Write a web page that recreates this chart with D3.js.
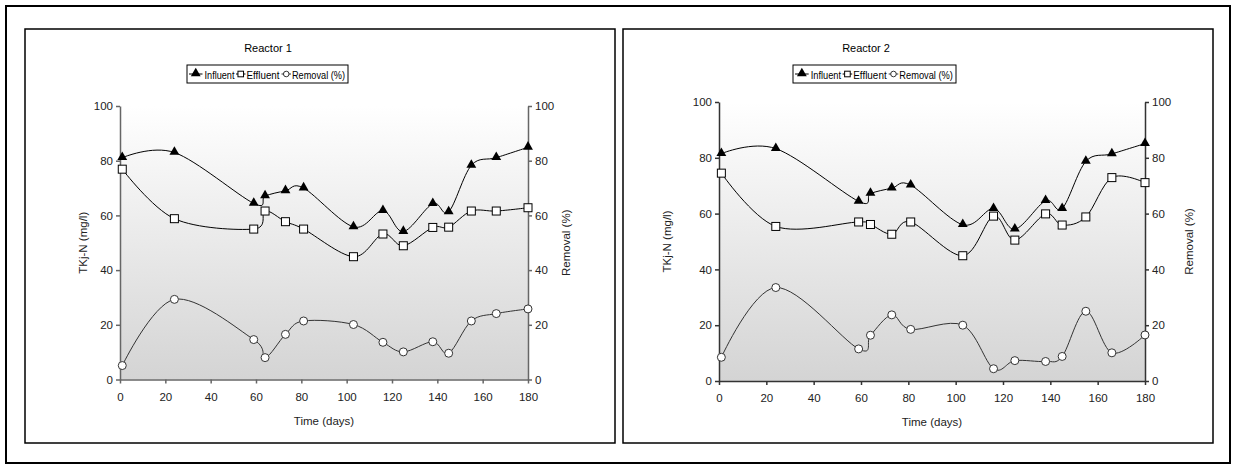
<!DOCTYPE html>
<html><head><meta charset="utf-8">
<script src="https://cdn.jsdelivr.net/npm/d3@7"></script>
<style>body{margin:0;background:#fff}svg{display:block;font-family:"Liberation Sans",Arial,sans-serif}</style>
</head><body>
<svg id="c" width="1236" height="469"></svg>
<script>
const days = [1, 24, 59, 64, 73, 81, 103, 116, 125, 138, 145, 155, 166, 180];
const xTicks = [0, 20, 40, 60, 80, 100, 120, 140, 160, 180];
const yTicks = [0, 20, 40, 60, 80, 100];
const r1Influent = [81.1, 83.0, 64.4, 67.1, 69.0, 70.0, 55.8, 61.7, 54.1, 64.3, 61.3, 78.3, 81.1, 84.9];
const r1Effluent = [76.9, 58.8, 55.0, 61.6, 57.7, 55.0, 44.9, 53.2, 48.9, 55.6, 55.7, 61.6, 61.6, 62.8];
const r1Removal = [5.1, 29.3, 14.6, 8.0, 16.5, 21.4, 20.1, 13.6, 10.1, 13.8, 9.6, 21.4, 24.1, 25.8];
const r2Influent = [81.5, 83.3, 64.4, 67.2, 69.1, 70.2, 56.0, 61.8, 54.4, 64.6, 61.8, 78.7, 81.4, 85.1];
const r2Effluent = [74.5, 55.4, 57.0, 56.1, 52.6, 57.0, 44.9, 59.1, 50.5, 59.9, 55.9, 58.8, 72.9, 71.1];
const r2Removal = [8.5, 33.5, 11.5, 16.4, 23.7, 18.5, 20.0, 4.4, 7.3, 7.0, 8.8, 25.0, 10.1, 16.5];
const seriesNames = ["Influent", "Effluent", "Removal (%)"];

const svg = d3.select("#c");
svg.append("rect").attr("x",6).attr("y",6).attr("width",1224).attr("height",457)
  .attr("fill","none").attr("stroke","#000").attr("stroke-width",2);

const defs = svg.append("defs");
const grad = defs.append("linearGradient").attr("id","bg").attr("x1",0).attr("y1",0).attr("x2",0).attr("y2",1);
grad.append("stop").attr("offset","0%").attr("stop-color","#ffffff");
grad.append("stop").attr("offset","100%").attr("stop-color","#d4d4d4");

function panel(cfg){
  const g = svg.append("g");
  g.append("rect").attr("x",cfg.fx).attr("y",29).attr("width",cfg.fw).attr("height",414)
    .attr("fill","#fff").attr("stroke","#000").attr("stroke-width",1.5);
  const x = d3.scaleLinear().domain([0,180]).range([cfg.x0,cfg.x1]);
  const y = d3.scaleLinear().domain([0,100]).range([cfg.y0,cfg.y1]);
  g.append("rect").attr("x",cfg.x0).attr("y",cfg.y1).attr("width",cfg.x1-cfg.x0).attr("height",cfg.y0-cfg.y1)
    .attr("fill","url(#bg)");
  const fs = "11.5px";
  const styleAxis = a => { a.selectAll("path,line").attr("stroke",cfg.axc).attr("stroke-width",1.5);
    a.selectAll("text").attr("fill","#222").style("font-size",fs).style("font-family","Liberation Sans, Arial"); };
  g.append("g").attr("transform",`translate(0,${cfg.y0})`)
    .call(d3.axisBottom(x).tickValues(xTicks).tickSize(4).tickSizeOuter(0).tickPadding(9)).call(styleAxis);
  g.append("g").attr("transform",`translate(${cfg.x0},0)`)
    .call(d3.axisLeft(y).tickValues(yTicks).tickSize(4).tickSizeOuter(0).tickPadding(3)).call(styleAxis);
  g.append("g").attr("transform",`translate(${cfg.x1},0)`)
    .call(d3.axisRight(y).tickValues(yTicks).tickSize(4).tickSizeOuter(0).tickPadding(3)).call(styleAxis);
  g.append("text").attr("x",(cfg.x0+cfg.x1)/2).attr("y",cfg.y0+45).attr("text-anchor","middle")
    .style("font-size","11.5px").attr("fill","#222").text("Time (days)");
  g.append("text").attr("transform",`translate(${cfg.ly},${(cfg.y0+cfg.y1)/2}) rotate(-90)`).attr("text-anchor","middle")
    .style("font-size","11.5px").attr("fill","#222").text("TKj-N (mg/l)");
  g.append("text").attr("transform",`translate(${cfg.ry},${(cfg.y0+cfg.y1)/2}) rotate(-90)`).attr("text-anchor","middle")
    .style("font-size","11.5px").attr("fill","#222").text("Removal (%)");
  g.append("text").attr("x",cfg.tc).attr("y",52).attr("text-anchor","middle")
    .style("font-size","11px").attr("fill","#000").text(cfg.title);

  const line = d3.line().x((d,i)=>x(days[i])).y(d=>y(d)).curve(d3.curveCardinal.tension(0));
  const series = [
    {vals:cfg.inf, stroke:"#000", type:"tri"},
    {vals:cfg.eff, stroke:"#000", type:"sq"},
    {vals:cfg.rem, stroke:"#333", type:"circ"}
  ];
  function marker(sel, type, stroke, sc){
    if(type==="tri") sel.append("path").attr("d",d3.symbol().type(d3.symbolTriangle).size(42*sc*sc)()).attr("fill","#000").attr("transform","translate(0,-0.5)");
    else if(type==="sq") sel.append("rect").attr("x",-4*sc).attr("y",-4*sc).attr("width",8*sc).attr("height",8*sc)
      .attr("fill","#fff").attr("stroke","#000").attr("stroke-width",1);
    else sel.append("circle").attr("r",4*sc).attr("fill","#fff").attr("stroke",stroke).attr("stroke-width",1);
  }
  series.forEach(s=>{
    g.append("path").attr("d",line(s.vals)).attr("fill","none").attr("stroke",s.stroke).attr("stroke-width",1);
    s.vals.forEach((v,i)=>{
      const m = g.append("g").attr("transform",`translate(${x(days[i])},${y(v)})`);
      marker(m, s.type, s.stroke, 1);
    });
  });
  // legend
  const k = cfg.lgw/161;
  const lg = g.append("g").attr("transform",`translate(${cfg.lgx},65)`);
  lg.append("rect").attr("x",0).attr("y",0).attr("width",cfg.lgw).attr("height",18)
    .attr("fill","#fff").attr("stroke","#000").attr("stroke-width",1);
  const items = [
    {l0:2, l1:15.5, t0:17.5, tw:30},
    {l0:49, l1:58.5, t0:59.5, tw:33},
    {l0:94.5, l1:104, t0:105, tw:53}
  ];
  series.forEach((s,i)=>{
    const it = items[i];
    lg.append("line").attr("x1",it.l0*k).attr("x2",it.l1*k).attr("y1",9).attr("y2",9).attr("stroke",s.stroke);
    const m = lg.append("g").attr("transform",`translate(${(it.l0+it.l1)/2*k},9)`);
    marker(m, s.type, s.stroke, s.type==="tri" ? 1 : 0.7);
    lg.append("text").attr("x",it.t0*k).attr("y",13.5).style("font-size","11px").attr("fill","#000")
      .attr("textLength",it.tw*k).attr("lengthAdjust","spacingAndGlyphs").text(seriesNames[i]);
  });
}

panel({fx:25, fw:590, x0:120, x1:528, y0:379.5, y1:106, ly:87, ry:570, tc:268, lgx:187, lgw:161, axc:"#666",
  title:"Reactor 1", inf:r1Influent, eff:r1Effluent, rem:r1Removal});
panel({fx:623, fw:590, x0:719, x1:1145, y0:381, y1:102, ly:671, ry:1193, tc:866, lgx:793, lgw:163, axc:"#333",
  title:"Reactor 2", inf:r2Influent, eff:r2Effluent, rem:r2Removal});
</script>
</body></html>
